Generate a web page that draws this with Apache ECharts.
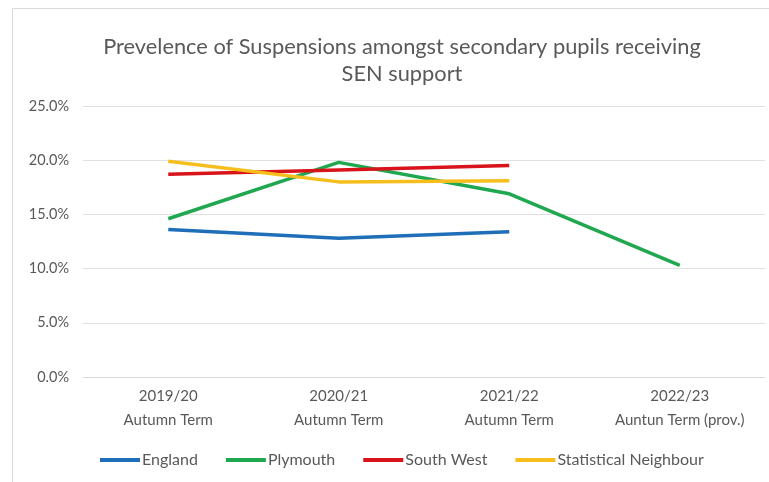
<!DOCTYPE html>
<html><head><meta charset="utf-8">
<script src="https://cdn.jsdelivr.net/npm/echarts@6/dist/echarts.min.js"></script>
<style>html,body{margin:0;padding:0;background:#fff}#c{width:769px;height:482px}</style>
</head><body><div id="c"></div>
<script>
const categories = ['2019/20\nAutumn Term','2020/21\nAutumn Term','2021/22\nAutumn Term','2022/23\nAuntun Term (prov.)'];
const england = [13.6, 12.8, 13.4, null];
const plymouth = [14.6, 19.8, 16.9, 10.3];
const southWest = [18.7, 19.1, 19.5, null];
const statNeighbour = [19.9, 18.0, 18.1, null];
const yTicks = [0, 5, 10, 15, 20, 25];

const chart = echarts.init(document.getElementById('c'));
const font = 'Lato, "Open Sans", sans-serif';
function s(name, data, color){
  return {name, type:'line', data, symbol:'none', smooth:false, connectNulls:false,
    lineStyle:{color, width:3.5}, itemStyle:{color}};
}
chart.setOption({
  animation:false,
  graphic:[{type:'rect', shape:{x:12.5,y:8.5,width:770,height:490}, style:{fill:'none', stroke:'#d9d9d9', lineWidth:1}}],
  title:{text:'Prevelence of Suspensions amongst secondary pupils receiving\nSEN support', left:397, top:28, textAlign:'center',
    textStyle:{fontFamily:font, fontSize:21.8, fontWeight:'normal', color:'#595959', lineHeight:27}},
  grid:{left:83, right:4, top:106, bottom:105, containLabel:false},
  xAxis:{type:'category', data:categories, boundaryGap:true,
    axisLine:{lineStyle:{color:'#d9d9d9'}}, axisTick:{show:false},
    axisLabel:{fontFamily:font, fontSize:15, color:'#595959', lineHeight:24, margin:7}},
  yAxis:{type:'value', min:yTicks[0], max:yTicks[yTicks.length-1], interval:5,
    axisLine:{show:false}, axisTick:{show:false},
    splitLine:{lineStyle:{color:'#e0e0e0'}},
    axisLabel:{fontFamily:font, fontSize:14.5, color:'#595959', margin:14, formatter:v=>v.toFixed(1)+'%'}},
  legend:{bottom:9, left:95, itemWidth:40, itemHeight:4, itemGap:28, icon:'rect',
    textStyle:{fontFamily:font, fontSize:16, color:'#595959', padding:[0,0,0,-3]},
    data:['England','Plymouth','South West','Statistical Neighbour']},
  series:[s('England', england, '#1f6fb8'), s('Plymouth', plymouth, '#1fa84f'), s('South West', southWest, '#d9131a'), s('Statistical Neighbour', statNeighbour, '#f5be1c')]
});
</script></body></html>
